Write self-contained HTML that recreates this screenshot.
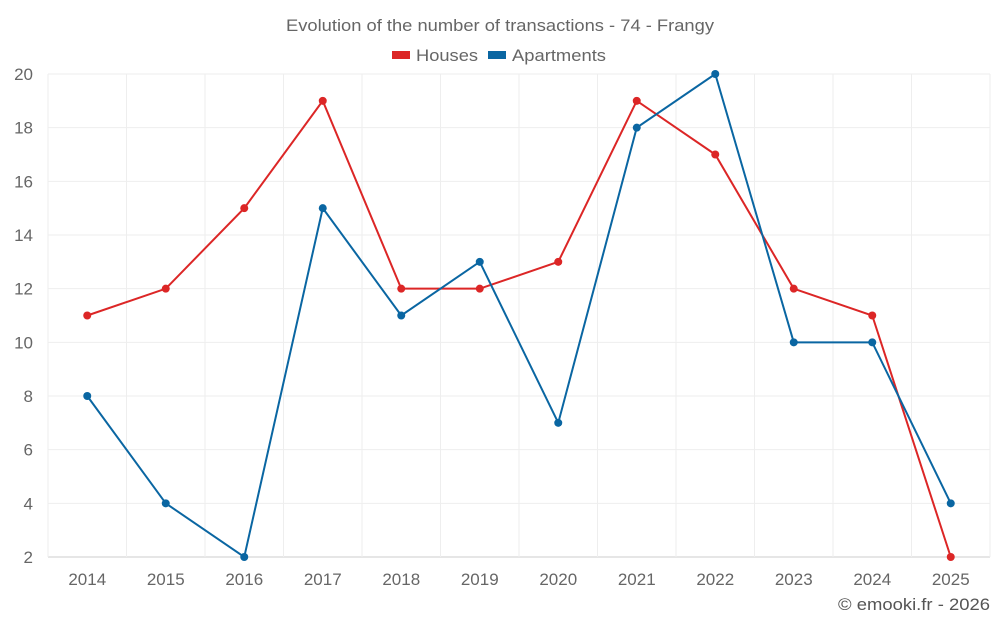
<!DOCTYPE html>
<html><head><meta charset="utf-8"><style>
body{margin:0;background:#fff;}
svg{display:block;font-family:"Liberation Sans",sans-serif;}
</style></head><body>
<svg id="chart" width="1000" height="625" viewBox="0 0 1000 625">
<text x="286" y="31" font-size="16.5" fill="#666" textLength="428" lengthAdjust="spacingAndGlyphs">Evolution of the number of transactions - 74 - Frangy</text>
<g>
<rect x="392" y="51" width="18" height="8" fill="#dc2626"/>
<text x="416" y="61" font-size="17" fill="#666" textLength="62" lengthAdjust="spacingAndGlyphs">Houses</text>
<rect x="488" y="51" width="18" height="8" fill="#0a66a2"/>
<text x="512" y="61" font-size="17" fill="#666" textLength="94" lengthAdjust="spacingAndGlyphs">Apartments</text>
</g>
<g id="grid"></g><g id="axes"></g><g id="series"></g>
<text x="838" y="610" font-size="16.5" fill="#555" textLength="152" lengthAdjust="spacingAndGlyphs">© emooki.fr - 2026</text>
</svg>
<script>
const categories=["2014","2015","2016","2017","2018","2019","2020","2021","2022","2023","2024","2025"];
const houses=[11,12,15,19,12,12,13,19,17,12,11,2];
const apartments=[8,4,2,15,11,13,7,18,20,10,10,4];
const yTicks=[2,4,6,8,10,12,14,16,18,20];
const NS="http://www.w3.org/2000/svg";
const L=48,R=990,T=74,B=557,yMin=2,yMax=20;
const bw=(R-L)/categories.length;
const x=i=>L+bw*(i+0.5);
const y=v=>B-(v-yMin)/(yMax-yMin)*(B-T);
function mk(tag,attrs,parent){const e=document.createElementNS(NS,tag);for(const k in attrs)e.setAttribute(k,attrs[k]);document.getElementById(parent).appendChild(e);return e;}
yTicks.forEach(v=>{
const l=mk('line',{x1:L,x2:R,y1:y(v),y2:y(v),stroke:v===yMin?'#ccc':'#eee','stroke-width':1},'grid');


const t=mk('text',{x:33,y:y(v)+6,'text-anchor':'end','font-size':17,fill:'#666'},'axes');t.textContent=v;


});
for(let i=0;i<=categories.length;i++){
const l=mk('line',{x1:L+bw*i,x2:L+bw*i,y1:T,y2:B,stroke:'#eee','stroke-width':1},'grid');


}
categories.forEach((c,i)=>{
const t=mk('text',{x:x(i),y:585,'text-anchor':'middle','font-size':17,fill:'#666'},'axes');t.textContent=c;


});
function series(data,color,name){
const p=mk('polyline',{points:data.map((v,i)=>x(i)+','+y(v)).join(' '),fill:'none',stroke:color,'stroke-width':2},'series');


data.forEach((v,i)=>{
const c=mk('circle',{cx:x(i),cy:y(v),r:4,fill:color},'series');


});
}
series(houses,'#dc2626','houses');
series(apartments,'#0a66a2','apartments');
</script>
</body></html>
